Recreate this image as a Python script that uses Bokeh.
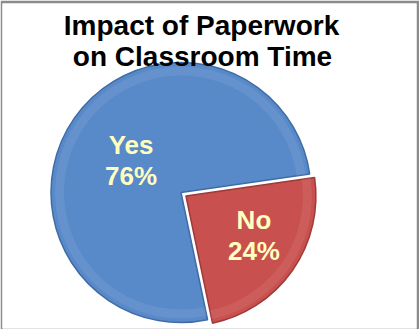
import math
from bokeh.plotting import figure
from bokeh.models import Range1d, ColumnDataSource
from bokeh.core.properties import value
from bokeh.embed import file_html
from bokeh.resources import INLINE

# ---- data ----
categories = ["Yes", "No"]
values = [76, 24]
title_lines = ["Impact of Paperwork", "on Classroom Time"]

# ---- styles / layout ----
W, H = 419, 329
colors = ["#5889C8", "#C8504E"]
edge_colors = ["#3F6CA6", "#9E3A38"]
label_color = "#FFFFC0"
font = "Liberation Sans"
first_angle = math.radians(8.2)      # boundary between "No" (below) and "Yes" (above), ccw
cx, cy = 180.5, 329 - 192            # pie centre in data coords (y up)
R = 130
explode = [0, 6]
label_frac = [0.45, 0.62]
label_nudge = [(-2, 2), (2, 10.5)]

total = float(sum(values))
starts, ends, xs, ys, lx, ly = [], [], [], [], [], []
a = first_angle
for i, v in enumerate(values):
    span = 2 * math.pi * v / total
    s, e = a, a + span
    mid = (s + e) / 2
    ox = cx + explode[i] * math.cos(mid)
    oy = cy + explode[i] * math.sin(mid)
    starts.append(s); ends.append(e); xs.append(ox); ys.append(oy)
    lx.append(ox + label_frac[i] * R * math.cos(mid) + label_nudge[i][0])
    ly.append(oy + label_frac[i] * R * math.sin(mid) + label_nudge[i][1])
    a = e

src = ColumnDataSource(dict(x=xs, y=ys, start=starts, end=ends, color=colors,
                            edge=edge_colors, cat=categories,
                            pct=[f"{v}%" for v in values], lx=lx, ly=ly))

p = figure(width=W, height=H, output_backend="svg", toolbar_location=None,
           x_range=Range1d(2, 416), y_range=Range1d(1, 326),
           x_axis_location=None, y_axis_location=None,
           min_border_left=2, min_border_right=3, min_border_top=3, min_border_bottom=1)
p.grid.visible = False
p.outline_line_color = None
p.border_fill_color = "#8c8c8c"
p.background_fill_color = "white"

p.wedge(x="x", y="y", radius=R, start_angle="start", end_angle="end",
        fill_color="color", line_color="edge", line_width=1.5, source=src)
# bevel highlight ring
p.annular_wedge(x="x", y="y", inner_radius=R - 13, outer_radius=R - 4,
                start_angle="start", end_angle="end", fill_color="white",
                fill_alpha=0.08, line_color=None, source=src)

lab_font_size = "26px"
p.text(x="lx", y="ly", text="cat", source=src, text_align="center",
       text_baseline="alphabetic", text_color=label_color, text_font=value(font),
       text_font_style="bold", text_font_size=lab_font_size, y_offset=-12)
p.text(x="lx", y="ly", text="pct", source=src, text_align="center",
       text_baseline="alphabetic", text_color=label_color, text_font=value(font),
       text_font_style="bold", text_font_size=lab_font_size, y_offset=19)

tsrc = ColumnDataSource(dict(x=[201, 202], y=[329 - 35, 329 - 66], t=title_lines))
p.text(x="x", y="y", text="t", source=tsrc, text_align="center",
       text_baseline="alphabetic", text_color="black", text_font=value(font),
       text_font_style="bold", text_font_size="28px", y_offset=-10)

open("out.html", "w").write(file_html(p, INLINE))
